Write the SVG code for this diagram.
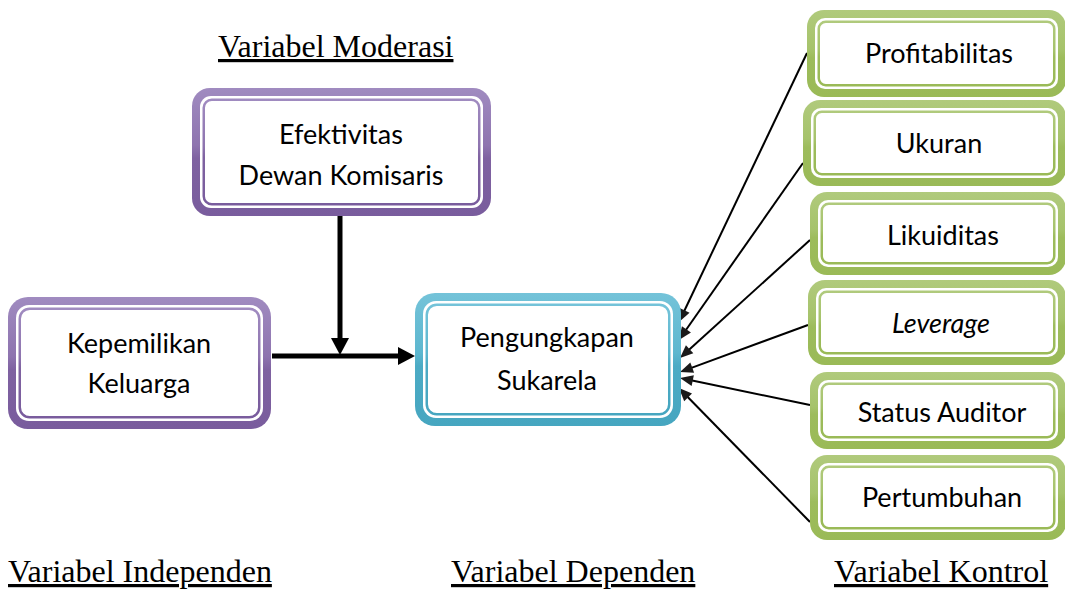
<svg xmlns="http://www.w3.org/2000/svg" width="1065" height="590" viewBox="0 0 1065 590">
  <defs>
    <linearGradient id="gp" x1="0" y1="0" x2="0" y2="1">
      <stop offset="0" stop-color="#A08BC0"/>
      <stop offset="0.45" stop-color="#8E74AF"/>
      <stop offset="0.55" stop-color="#7F62A1"/>
      <stop offset="1" stop-color="#795C9D"/>
    </linearGradient>
    <linearGradient id="gb" x1="0" y1="0" x2="0" y2="1">
      <stop offset="0" stop-color="#74C3D9"/>
      <stop offset="0.45" stop-color="#5DB7CF"/>
      <stop offset="0.55" stop-color="#4CABC5"/>
      <stop offset="1" stop-color="#46A6C0"/>
    </linearGradient>
    <linearGradient id="gg" x1="0" y1="0" x2="0" y2="1">
      <stop offset="0" stop-color="#B0CA7C"/>
      <stop offset="0.45" stop-color="#A6C36B"/>
      <stop offset="0.55" stop-color="#9DBC5C"/>
      <stop offset="1" stop-color="#9ABA57"/>
    </linearGradient>
    <marker id="ahThick" markerUnits="userSpaceOnUse" markerWidth="18" markerHeight="18" refX="0" refY="9" orient="auto" overflow="visible">
      <path d="M0,0 L17,9 L0,18 Z" fill="#000"/>
    </marker>
    <marker id="ahThin" markerUnits="userSpaceOnUse" markerWidth="14" markerHeight="12" refX="3" refY="5.5" orient="auto" overflow="visible">
      <path d="M0,0 L13,5.5 L0,11 Z" fill="#1a1a1a"/>
    </marker>
  </defs>
  <style>
    .inner { fill: #ffffff; }
    .line { fill: none; stroke-width: 2.5; }
    .pu { fill: url(#gp); }
    .pu-s { stroke: url(#gp); }
    .bl { fill: url(#gb); }
    .bl-s { stroke: url(#gb); }
    .gr { fill: url(#gg); }
    .gr-s { stroke: url(#gg); }
    .t { font-family: Lato, "Open Sans", "DejaVu Sans", sans-serif; font-size: 27px; fill: #000; text-anchor: middle; }
    .lbl { font-family: "Liberation Serif", "Times New Roman", serif; font-size: 32px; fill: #000; text-decoration: underline; }
    .thick { fill: none; stroke: #000; stroke-width: 5; marker-end: url(#ahThick); }
    .thin { fill: none; stroke: #000; stroke-width: 2; marker-end: url(#ahThin); }
  </style>
  <rect x="0" y="0" width="1065" height="590" fill="#ffffff"/>

  <g id="labels">
    <text class="lbl" x="218" y="57">Variabel Moderasi</text>
    <text class="lbl" x="8" y="582">Variabel Independen</text>
    <text class="lbl" x="451" y="582">Variabel Dependen</text>
    <text class="lbl" x="834" y="582">Variabel Kontrol</text>
  </g>

  <g id="connectors">
    <path class="thick" d="M340,214 V338"/>
    <path class="thick" d="M272,356 H398"/>
    <path class="thin" d="M807,53 L683.3,313"/>
    <path class="thin" d="M803,163 L684.7,331.8"/>
    <path class="thin" d="M810,240 L687.4,351.3"/>
    <path class="thin" d="M808,325 L689.4,368.6"/>
    <path class="thin" d="M810,405 L689.8,380"/>
    <path class="thin" d="M810,522 L686,395.2"/>
  </g>

  <g id="node-efektivitas">
    <rect class="pu" x="192" y="88" width="299" height="128" rx="18"/>
    <rect class="inner" x="200" y="96" width="283" height="112" rx="11"/>
    <rect class="line pu-s" x="203.75" y="99.75" width="275.5" height="104.5" rx="8"/>
    <text class="t" x="341" y="144">Efektivitas</text>
    <text class="t" x="341" y="185">Dewan Komisaris</text>
  </g>

  <g id="node-kepemilikan">
    <rect class="pu" x="8" y="297" width="263" height="132" rx="20"/>
    <rect class="inner" x="16" y="305" width="247" height="116" rx="13"/>
    <rect class="line pu-s" x="19.75" y="308.75" width="239.5" height="108.5" rx="10"/>
    <text class="t" x="139" y="353">Kepemilikan</text>
    <text class="t" x="139" y="393">Keluarga</text>
  </g>

  <g id="node-pengungkapan">
    <rect class="bl" x="415" y="293" width="266" height="133" rx="20"/>
    <rect class="inner" x="423" y="301" width="250" height="117" rx="13"/>
    <rect class="line bl-s" x="426.75" y="304.75" width="242.5" height="109.5" rx="10"/>
    <text class="t" x="547" y="347">Pengungkapan</text>
    <text class="t" x="547" y="390">Sukarela</text>
  </g>

  <g id="node-profitabilitas">
    <rect class="gr" x="807" y="10" width="259" height="87" rx="17"/>
    <rect class="inner" x="815" y="18" width="243" height="71" rx="10"/>
    <rect class="line gr-s" x="818.75" y="21.75" width="235.5" height="63.5" rx="7"/>
    <text class="t" x="939" y="63">Profitabilitas</text>
  </g>

  <g id="node-ukuran">
    <rect class="gr" x="803" y="100" width="263" height="86" rx="17"/>
    <rect class="inner" x="811" y="108" width="247" height="70" rx="10"/>
    <rect class="line gr-s" x="814.75" y="111.75" width="239.5" height="62.5" rx="7"/>
    <text class="t" x="939" y="153">Ukuran</text>
  </g>

  <g id="node-likuiditas">
    <rect class="gr" x="810" y="192" width="256" height="83" rx="17"/>
    <rect class="inner" x="818" y="200" width="240" height="67" rx="10"/>
    <rect class="line gr-s" x="821.75" y="203.75" width="232.5" height="59.5" rx="7"/>
    <text class="t" x="943" y="245">Likuiditas</text>
  </g>

  <g id="node-leverage">
    <rect class="gr" x="808" y="280" width="258" height="85" rx="17"/>
    <rect class="inner" x="816" y="288" width="242" height="69" rx="10"/>
    <rect class="line gr-s" x="819.75" y="291.75" width="234.5" height="61.5" rx="7"/>
    <text class="t" x="941" y="333" font-style="italic">Leverage</text>
  </g>

  <g id="node-status-auditor">
    <rect class="gr" x="810" y="372" width="256" height="77" rx="17"/>
    <rect class="inner" x="818" y="380" width="240" height="61" rx="10"/>
    <rect class="line gr-s" x="821.75" y="383.75" width="232.5" height="53.5" rx="7"/>
    <text class="t" x="942" y="422">Status Auditor</text>
  </g>

  <g id="node-pertumbuhan">
    <rect class="gr" x="810" y="455" width="256" height="85" rx="17"/>
    <rect class="inner" x="818" y="463" width="240" height="69" rx="10"/>
    <rect class="line gr-s" x="821.75" y="466.75" width="232.5" height="61.5" rx="7"/>
    <text class="t" x="942" y="507">Pertumbuhan</text>
  </g>
</svg>
